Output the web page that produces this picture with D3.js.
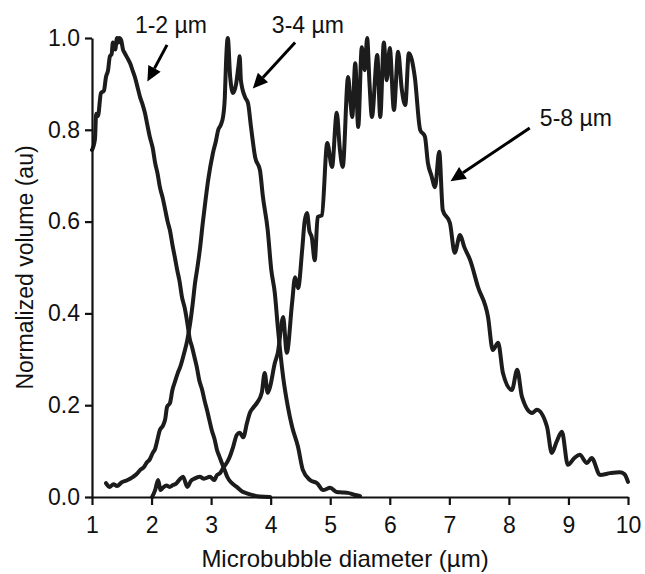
<!DOCTYPE html>
<html>
<head>
<meta charset="utf-8">
<script src="https://cdn.jsdelivr.net/npm/d3@7"></script>
<style>
  body { margin: 0; background: #fff; }
  text { font-family: "Liberation Sans", Arial, sans-serif; fill: #111; }
</style>
</head>
<body>
<svg id="chart" width="645" height="574"></svg>
<script>
// size distributions (x = diameter in um, y = normalized volume)
var smallX = [1.0, 1.05, 1.07, 1.1, 1.15, 1.2, 1.235, 1.27, 1.3, 1.33, 1.35, 1.39, 1.42, 1.44, 1.46, 1.49, 1.52, 1.55, 1.6, 1.64, 1.68, 1.72, 1.77, 1.81, 1.85, 1.89, 1.93, 1.97, 2.02, 2.06, 2.1, 2.14, 2.19, 2.23, 2.27, 2.31, 2.35, 2.39, 2.43, 2.47, 2.51, 2.56, 2.6, 2.64, 2.68, 2.72, 2.76, 2.8, 2.85, 2.89, 2.93, 2.97, 3.01, 3.06, 3.1, 3.14, 3.18, 3.23, 3.27, 3.35, 3.43, 3.52, 3.6, 3.7, 3.82, 3.99];
var smallY = [0.756, 0.78, 0.835, 0.83, 0.88, 0.885, 0.915, 0.93, 0.96, 0.965, 0.99, 0.975, 1.0, 0.99, 1.0, 0.995, 0.975, 0.967, 0.955, 0.945, 0.93, 0.915, 0.89, 0.87, 0.855, 0.836, 0.81, 0.785, 0.76, 0.728, 0.705, 0.675, 0.65, 0.625, 0.6, 0.58, 0.55, 0.523, 0.495, 0.47, 0.436, 0.41, 0.38, 0.345, 0.327, 0.305, 0.283, 0.255, 0.233, 0.21, 0.19, 0.168, 0.146, 0.125, 0.102, 0.088, 0.074, 0.058, 0.044, 0.03, 0.022, 0.012, 0.008, 0.004, 0.001, 0.0];

var midX = [1.235, 1.3, 1.36, 1.42, 1.5, 1.58, 1.69, 1.75, 1.81, 1.87, 1.92, 1.97, 2.02, 2.06, 2.09, 2.14, 2.19, 2.23, 2.26, 2.31, 2.35, 2.39, 2.44, 2.48, 2.54, 2.6, 2.65, 2.69, 2.73, 2.77, 2.81, 2.86, 2.9, 2.95, 3.03, 3.08, 3.12, 3.16, 3.2, 3.23, 3.25, 3.28, 3.32, 3.37, 3.42, 3.46, 3.48, 3.5, 3.57, 3.62, 3.67, 3.74, 3.82, 3.87, 3.95, 4.01, 4.07, 4.12, 4.21, 4.29, 4.36, 4.46, 4.54, 4.66, 4.78, 4.88, 5.0, 5.11, 5.2, 5.3, 5.4, 5.5];
var midY = [0.03, 0.022, 0.028, 0.024, 0.032, 0.036, 0.044, 0.05, 0.059, 0.065, 0.075, 0.082, 0.096, 0.105, 0.12, 0.146, 0.155, 0.17, 0.196, 0.205, 0.233, 0.25, 0.27, 0.283, 0.31, 0.342, 0.38, 0.42, 0.466, 0.5, 0.538, 0.597, 0.64, 0.69, 0.749, 0.775, 0.8, 0.81, 0.828, 0.87, 0.945, 1.0, 0.915, 0.88, 0.9, 0.94, 0.96, 0.908, 0.871, 0.858, 0.806, 0.74, 0.712, 0.654, 0.582, 0.495, 0.444, 0.37, 0.261, 0.196, 0.153, 0.109, 0.059, 0.037, 0.03, 0.015, 0.02, 0.011, 0.01, 0.009, 0.005, 0.002];

var largeX = [2.01, 2.06, 2.11, 2.15, 2.19, 2.25, 2.3, 2.36, 2.42, 2.47, 2.53, 2.6, 2.66, 2.72, 2.81, 2.88, 2.98, 3.05, 3.1, 3.15, 3.21, 3.27, 3.32, 3.37, 3.43, 3.48, 3.54, 3.6, 3.65, 3.71, 3.77, 3.85, 3.9, 3.95, 3.99, 4.07, 4.12, 4.21, 4.27, 4.36, 4.41, 4.46, 4.53, 4.57, 4.61, 4.65, 4.69, 4.74, 4.79, 4.86, 4.95, 5.03, 5.11, 5.16, 5.21, 5.3, 5.34, 5.37, 5.42, 5.47, 5.53, 5.58, 5.62, 5.66, 5.7, 5.79, 5.84, 5.9, 5.95, 6.0, 6.07, 6.14, 6.2, 6.26, 6.32, 6.42, 6.51, 6.59, 6.64, 6.7, 6.76, 6.83, 6.89, 7.01, 7.09, 7.18, 7.25, 7.35, 7.48, 7.65, 7.73, 7.82, 7.9, 8.05, 8.14, 8.22, 8.39, 8.47, 8.64, 8.72, 8.8, 8.89, 8.99, 9.1, 9.19, 9.31, 9.39, 9.53, 9.7, 9.86, 9.94, 10.0];
var largeY = [0.0, 0.015, 0.037, 0.015, 0.02, 0.025, 0.022, 0.026, 0.03, 0.038, 0.044, 0.022, 0.035, 0.04, 0.044, 0.04, 0.044, 0.037, 0.048, 0.052, 0.065, 0.076, 0.09, 0.109, 0.135, 0.14, 0.13, 0.16, 0.183, 0.195, 0.205, 0.227, 0.27, 0.227, 0.24, 0.292, 0.314, 0.392, 0.314, 0.423, 0.479, 0.455, 0.54, 0.6, 0.619, 0.58, 0.566, 0.516, 0.61, 0.614, 0.771, 0.719, 0.837, 0.76, 0.719, 0.915, 0.86, 0.828, 0.945, 0.806, 0.98, 0.93, 1.0, 0.9, 0.828, 0.963, 0.828, 0.99, 0.908, 0.978, 0.843, 0.97, 0.89, 0.854, 0.967, 0.915, 0.8, 0.785, 0.728, 0.7, 0.675, 0.752, 0.625, 0.597, 0.532, 0.571, 0.545, 0.516, 0.458, 0.392, 0.32, 0.336, 0.27, 0.233, 0.277, 0.218, 0.183, 0.19, 0.153, 0.096, 0.12, 0.142, 0.07, 0.085, 0.092, 0.074, 0.085, 0.048, 0.052, 0.054, 0.05, 0.033];

var xTicks = [1, 2, 3, 4, 5, 6, 7, 8, 9, 10];
var yTicks = [0, 0.2, 0.4, 0.6, 0.8, 1.0];

// arrow annotations [label, label x, label y, tail x, tail y, head x, head y]
var notes = [
  ["1-2 \u00b5m", 1.72, 1.011, 2.26, 0.985, 1.93, 0.905],
  ["3-4 \u00b5m", 4.02, 1.011, 4.41, 0.99, 3.7, 0.89],
  ["5-8 \u00b5m", 8.52, 0.808, 8.35, 0.804, 7.02, 0.688]
];

function draw() {
  var svg = d3.select('#chart');
  var left = 92, right = 628, top = 38, bottom = 497;

  var x = d3.scaleLinear().domain([1, 10]).range([left, right]);
  var y = d3.scaleLinear().domain([0, 1]).range([bottom, top]);

  var line = d3.line()
    .curve(d3.curveMonotoneX)
    .x(function (d) { return x(d[0]); })
    .y(function (d) { return y(d[1]); });

  var series = [d3.zip(smallX, smallY), d3.zip(midX, midY), d3.zip(largeX, largeY)];

  svg.selectAll('.curve')
    .data(series)
    .enter()
    .append('path')
    .attr('class', 'curve')
    .attr('d', line)
    .attr('fill', 'none')
    .attr('stroke', '#1c1c1c')
    .attr('stroke-width', 4)
    .attr('stroke-linejoin', 'round')
    .attr('stroke-linecap', 'round');

  var xAxis = svg.append('g')
    .attr('transform', 'translate(0,' + bottom + ')')
    .call(d3.axisBottom(x).tickValues(xTicks).tickSize(8).tickSizeOuter(0).tickPadding(12));
  var yAxis = svg.append('g')
    .attr('transform', 'translate(' + left + ',0)')
    .call(d3.axisLeft(y).tickValues(yTicks).tickFormat(d3.format('.1f')).tickSize(7).tickSizeOuter(0).tickPadding(5));

  [xAxis, yAxis].forEach(function (ax) {
    ax.selectAll('path, line').attr('stroke', '#111').attr('stroke-width', 2.2);
    ax.selectAll('text').attr('font-size', 23).attr('font-family', '"Liberation Sans", Arial, sans-serif').attr('fill', '#111');
  });

  svg.append('text')
    .attr('x', 345).attr('y', 567)
    .attr('text-anchor', 'middle')
    .attr('font-size', 24)
    .text('Microbubble diameter (\u00b5m)');

  svg.append('text')
    .attr('transform', 'translate(33,' + ((top + bottom) / 2) + ') rotate(-90)')
    .attr('text-anchor', 'middle')
    .attr('font-size', 23)
    .text('Normalized volume (au)');

  // labels with arrows
  notes.forEach(function (n) {
    svg.append('text')
      .attr('x', x(n[1])).attr('y', y(n[2]))
      .attr('font-size', 23)
      .text(n[0]);

    var x0 = x(n[3]), y0 = y(n[4]), x1 = x(n[5]), y1 = y(n[6]);
    var ang = Math.atan2(y1 - y0, x1 - x0);
    var len = 15, half = 7;
    var bx = x1 - len * Math.cos(ang), by = y1 - len * Math.sin(ang);
    svg.append('line')
      .attr('x1', x0).attr('y1', y0).attr('x2', bx).attr('y2', by)
      .attr('stroke', '#000').attr('stroke-width', 3);
    svg.append('path')
      .attr('d', 'M' + x1 + ',' + y1 +
        'L' + (bx + half * Math.sin(ang)) + ',' + (by - half * Math.cos(ang)) +
        'L' + (bx - half * Math.sin(ang)) + ',' + (by + half * Math.cos(ang)) + 'Z')
      .attr('fill', '#000');
  });
}

draw();
</script>
</body>
</html>
